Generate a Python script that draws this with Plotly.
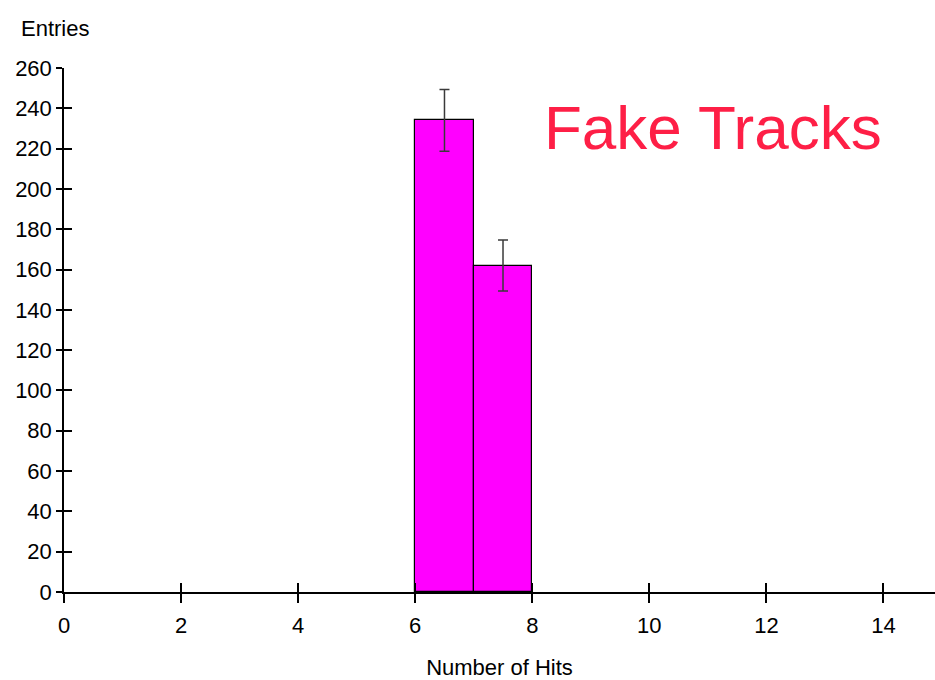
import plotly.graph_objects as go

# Histogram: number of hits per fake track
bin_left = [6, 7]
bin_right = [7, 8]
entries = [234, 162]
errors = [15.3, 12.7]

x_ticks = [0, 2, 4, 6, 8, 10, 12, 14]
y_ticks = list(range(0, 261, 20))

centers = [(a + b) / 2 for a, b in zip(bin_left, bin_right)]
widths = [b - a for a, b in zip(bin_left, bin_right)]

FONT = "Liberation Sans Narrow, Arial Narrow, Liberation Sans, Arial, sans-serif"
X_RANGE = [0, 14.88]
Y_RANGE = [0, 260]

fig = go.Figure()
fig.add_trace(go.Bar(
    x=centers, y=entries, width=widths,
    marker=dict(color="#ff00ff", line=dict(color="black", width=1.2)),
    error_y=dict(type="data", array=errors, visible=True,
                 color="#3a3a3a", thickness=1.5, width=5),
    showlegend=False, hoverinfo="x+y",
))
# invisible companion trace so the inner-tick axes get drawn
fig.add_trace(go.Scatter(x=centers, y=entries, xaxis="x2", yaxis="y2",
                         mode="markers", marker=dict(opacity=0),
                         showlegend=False, hoverinfo="skip"))

axis_font = dict(family=FONT, size=22, color="black")

fig.update_layout(
    width=935, height=680,
    margin=dict(l=64, r=0, t=68, b=88),
    plot_bgcolor="white", paper_bgcolor="white",
    bargap=0,
    xaxis=dict(range=X_RANGE, tickvals=x_ticks, ticks="outside", ticklen=9,
               tickwidth=1.5, tickcolor="black", showline=True, linecolor="black",
               linewidth=1.5, showgrid=False, zeroline=False, tickfont=axis_font,
               ticklabelstandoff=4,
               title=dict(text="Number of Hits",
                          font=dict(family=FONT, size=22, color="black"),
                          standoff=22)),
    yaxis=dict(range=Y_RANGE, tickvals=y_ticks, ticks="outside", ticklen=6,
               tickwidth=1.5, tickcolor="black", showline=True, linecolor="black",
               linewidth=1.5, showgrid=False, zeroline=False, tickfont=axis_font),
    xaxis2=dict(range=X_RANGE, overlaying="x", anchor="y2", tickvals=x_ticks,
                ticks="inside", ticklen=9, tickwidth=1.5, tickcolor="black",
                showticklabels=False, showline=False, showgrid=False, zeroline=False),
    yaxis2=dict(range=Y_RANGE, overlaying="y", anchor="x2", tickvals=y_ticks,
                ticks="inside", ticklen=8, tickwidth=1.5, tickcolor="black",
                showticklabels=False, showline=False, showgrid=False, zeroline=False),
    annotations=[
        dict(text="Entries", xref="paper", yref="paper", x=-45 / 871, y=1 + 40 / 524,
             xanchor="left", yanchor="middle", showarrow=False,
             font=dict(family=FONT, size=22, color="black")),
        dict(text="Fake Tracks", xref="paper", yref="paper", x=(713 - 64) / 871,
             y=(592 - 127) / 524, xanchor="center", yanchor="middle", showarrow=False,
             font=dict(family="Liberation Sans, Arial, sans-serif", size=62,
                       color="#fe1f46")),
    ],
)

fig.write_html("out.html")
